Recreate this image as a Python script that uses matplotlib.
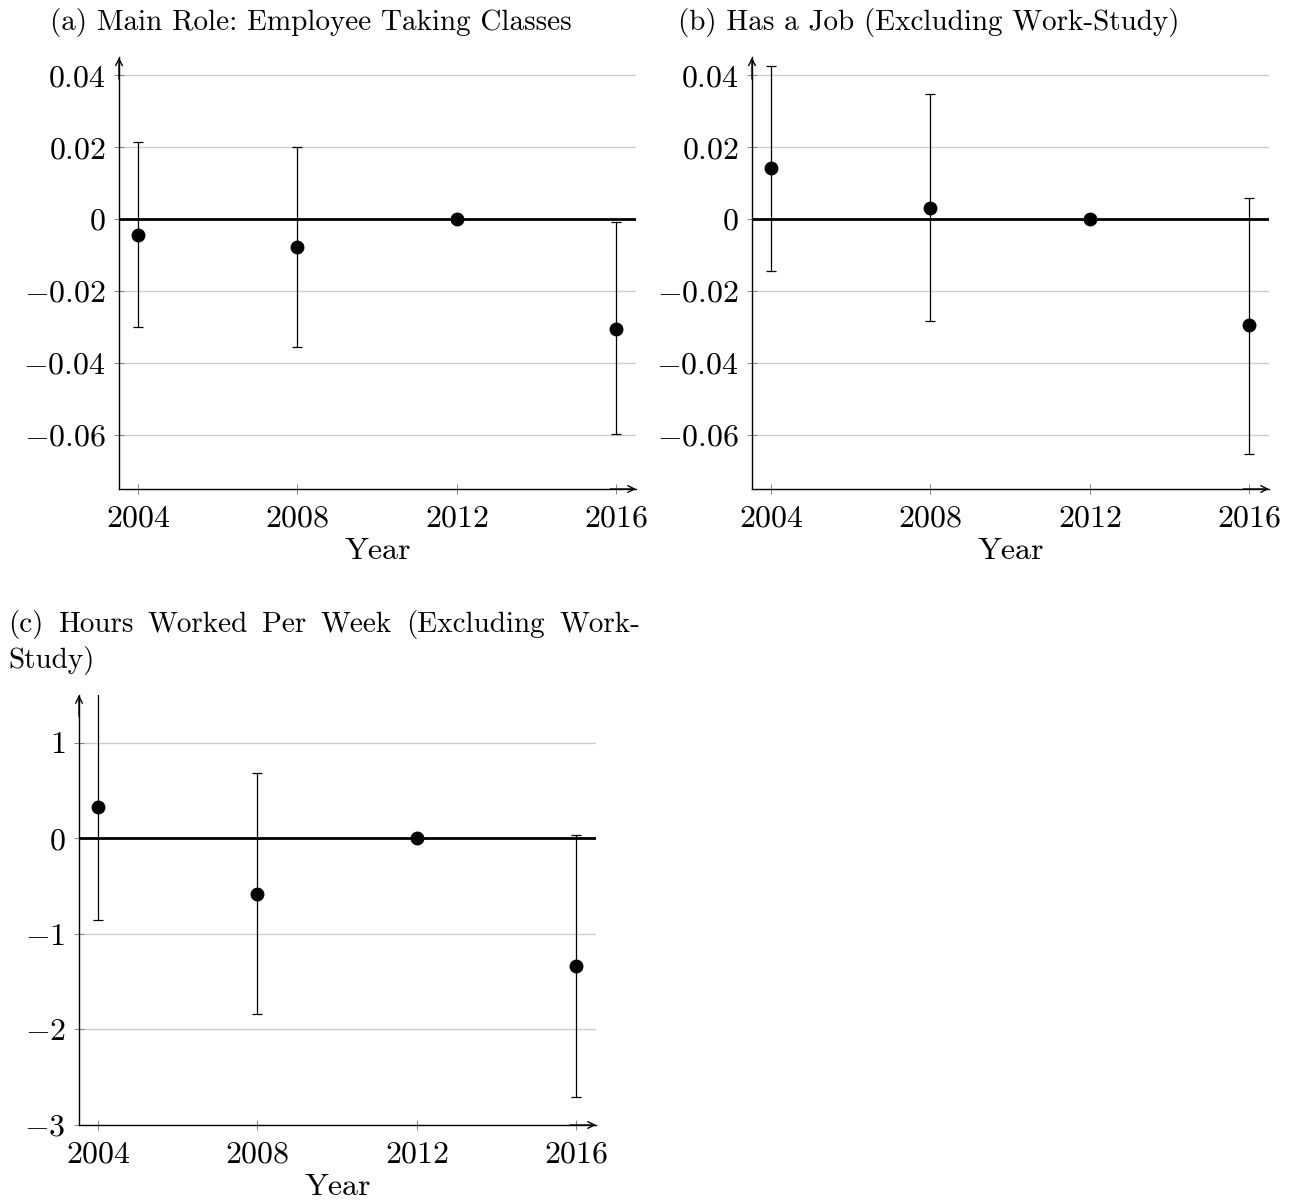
import numpy as np
import matplotlib.pyplot as plt

plt.rcParams['font.family'] = 'serif'
plt.rcParams['font.serif'] = ['cmr10']
plt.rcParams['mathtext.fontset'] = 'cm'
plt.rcParams['axes.unicode_minus'] = True

years = [2004, 2008, 2012, 2016]

# (a) main role: employee taking classes
role_est = [-0.0043, -0.0078, 0.0, -0.0304]
role_lo = [-0.0300, -0.0354, 0.0, -0.0596]
role_hi = [0.0215, 0.0200, 0.0, -0.0008]

# (b) has a job
job_est = [0.0142, 0.0032, 0.0, -0.0295]
job_lo = [-0.0143, -0.0284, 0.0, -0.0652]
job_hi = [0.0426, 0.0347, 0.0, 0.0060]

# (c) hours worked per week
hours_est = [0.33, -0.58, 0.0, -1.34]
hours_lo = [-0.85, -1.84, 0.0, -2.71]
hours_hi = [1.52, 0.68, 0.0, 0.03]

yticks_share = [-0.06, -0.04, -0.02, 0, 0.02, 0.04]
yticks_hours = [-3, -2, -1, 0, 1]

title_a = '(a) Main Role: Employee Taking Classes'
title_b = '(b) Has a Job (Excluding Work-Study)'
title_c1 = ['(c)', 'Hours', 'Worked', 'Per', 'Week', '(Excluding', 'Work-']
title_c2 = 'Study)'

W, H = 1295, 1203
fig = plt.figure(figsize=(W / 100, H / 100), dpi=100)


def panel(rect, est, lo, hi, yticks, ylim):
    ax = fig.add_axes(rect)
    est = np.array(est)
    err = [est - np.array(lo), np.array(hi) - est]
    ax.axhline(0, color='k', lw=2, zorder=2)
    ax.errorbar(years, est, yerr=err, fmt='o', color='k', ms=9,
                elinewidth=0.9, capsize=3.6, capthick=0.9, zorder=3)
    ax.set_xlim(2003.52, 2016.5)
    ax.set_ylim(*ylim)
    ax.set_xticks(years)
    ax.set_xticklabels(['$%d$' % y for y in years])
    ax.set_yticks(yticks)
    ax.set_yticklabels(['$%g$' % v for v in yticks])
    ax.yaxis.grid(True, color='0.8', lw=1)
    ax.set_axisbelow(True)
    for s in ['top', 'right']:
        ax.spines[s].set_visible(False)
    for s in ['left', 'bottom']:
        ax.spines[s].set_linewidth(1)
    ax.tick_params(direction='inout', length=7, width=0.6, color='0.45',
                   labelsize=23)
    ax.tick_params(axis='x', pad=8)
    ax.tick_params(axis='y', pad=6)
    ax.set_xlabel('Year', fontsize=23, labelpad=4)
    ap = dict(arrowstyle='->', lw=1, color='k', shrinkA=0, shrinkB=0,
              mutation_scale=12)
    ax.annotate('', xy=(0, 1), xytext=(0, 0.95), xycoords='axes fraction',
                arrowprops=ap)
    ax.annotate('', xy=(1, 0), xytext=(0.95, 0), xycoords='axes fraction',
                arrowprops=ap)
    return ax


top_y, bot_y = 57.4, 489
panel([119 / W, 1 - bot_y / H, 517 / W, (bot_y - top_y) / H],
      role_est, role_lo, role_hi, yticks_share, (-0.075, 0.045))
panel([752 / W, 1 - bot_y / H, 517 / W, (bot_y - top_y) / H],
      job_est, job_lo, job_hi, yticks_share, (-0.075, 0.045))
panel([79 / W, 1 - 1125 / H, 517 / W, (1125 - 695) / H],
      hours_est, hours_lo, hours_hi, yticks_hours, (-3, 1.5))

tsize = 21
fig.text(50 / W, 1 - 30 / H, title_a, fontsize=tsize, va='baseline')
fig.text(678 / W, 1 - 30 / H, title_b, fontsize=tsize, va='baseline')

# justified first line of caption (c)
x0, x1 = 8 / W, 640 / W
words = [fig.text(x0, 1 - 632 / H, w, fontsize=tsize, va='baseline')
         for w in title_c1]
fig.canvas.draw()
r = fig.canvas.get_renderer()
widths = [t.get_window_extent(r).width / fig.bbox.width for t in words]
gap = (x1 - x0 - sum(widths)) / (len(words) - 1)
x = x0
for t, w in zip(words, widths):
    t.set_x(x)
    x += w + gap
fig.text(x0, 1 - 668 / H, title_c2, fontsize=tsize, va='baseline')

fig.savefig('out.png', dpi=100)
